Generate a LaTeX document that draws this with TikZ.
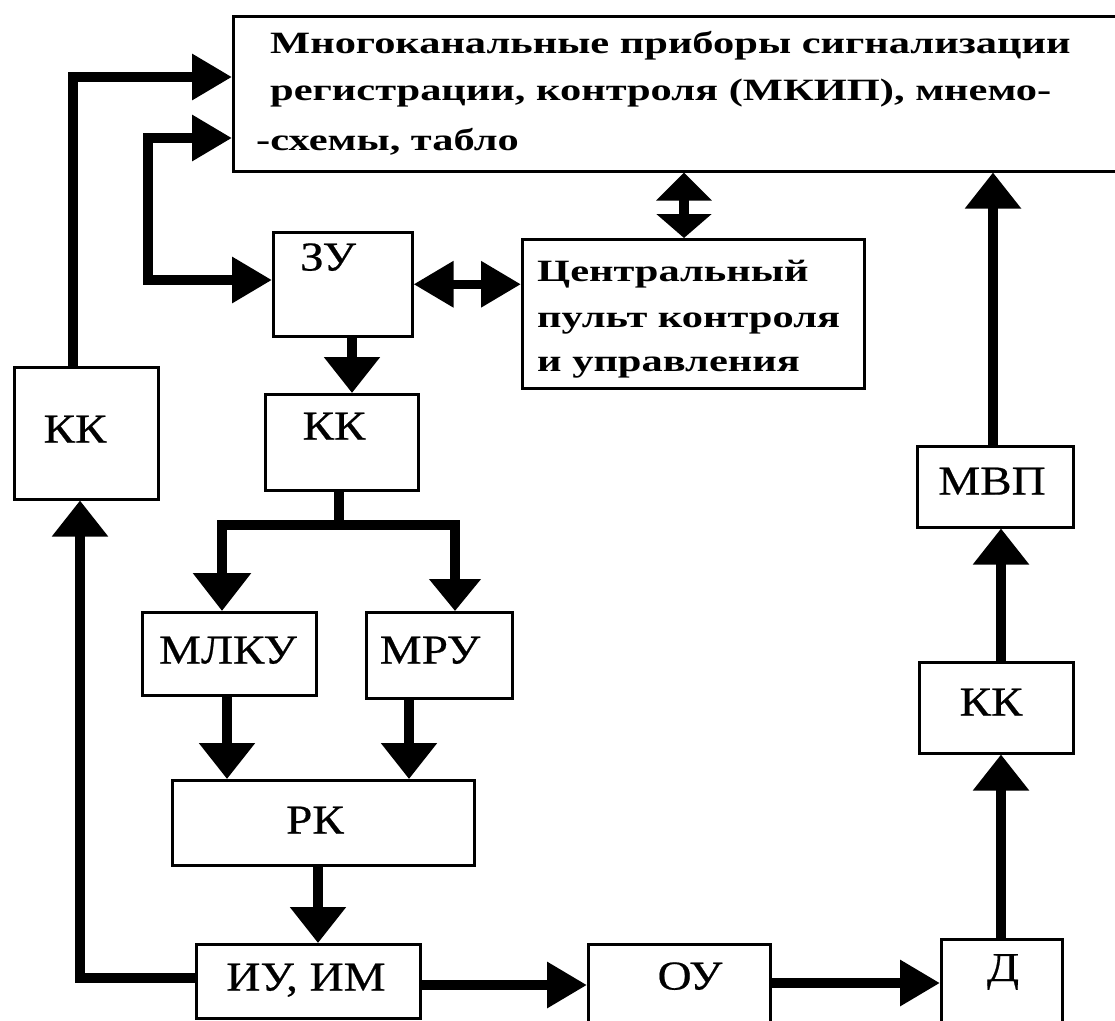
\documentclass[tikz,border=0pt]{standalone}
\usepackage{fontspec}
\usetikzlibrary{arrows.meta}
\newfontfamily\headfont[FakeStretch=1.37]{Liberation Serif}
\newfontfamily\boxfont[FakeStretch=1.15,FakeBold=0.5]{Liberation Serif}

\begin{document}
\begin{tikzpicture}[x=1pt,y=-1pt,
  blk/.style={draw, line width=2.5pt, inner sep=0pt, anchor=north west},
  lbl/.style={inner sep=0pt, anchor=base, font=\boxfont\fontsize{41}{41}\selectfont},
  headline/.style={inner sep=0pt, anchor=base west, font=\headfont\bfseries\fontsize{31}{36}\selectfont},
  wire/.style={line width=9.5pt},
  vtip/.style={wire, -{Triangle[length=36pt,width=54pt]}},
  htip/.style={wire, -{Triangle[length=40pt,width=44pt]}},
  hboth/.style={wire, {Triangle[length=40pt,width=44pt]}-{Triangle[length=40pt,width=44pt]}},
  vboth/.style={wire, {Triangle[length=38pt,width=56pt]}-{Triangle[length=32pt,width=50pt]}},
  vshort/.style={wire, {Triangle[length=28pt,width=54pt]}-{Triangle[length=24pt,width=54pt]}}
]
\useasboundingbox (0,0) rectangle (1115,1020);
\clip (0,0) rectangle (1115,1020);

% blocks
\node[blk, minimum width=950pt, minimum height=155pt] (mkip) at (232,15) {};
\node[blk, minimum width=139pt, minimum height=104pt] (zu)   at (272,231) {};
\node[blk, minimum width=342pt, minimum height=149pt] (cpu)  at (521,238) {};
\node[blk, minimum width=144pt, minimum height=132pt] (kkl)  at (13,366) {};
\node[blk, minimum width=153pt, minimum height=96pt]  (kkm)  at (264,393) {};
\node[blk, minimum width=174pt, minimum height=83pt]  (mlku) at (141,611) {};
\node[blk, minimum width=146pt, minimum height=86pt]  (mru)  at (365,611) {};
\node[blk, minimum width=302pt, minimum height=85pt]  (rk)   at (171,779) {};
\node[blk, minimum width=224pt, minimum height=74pt]  (ium)  at (195,943) {};
\node[blk, minimum width=182pt, minimum height=120pt] (ou)   at (587,943) {};
\node[blk, minimum width=121pt, minimum height=120pt] (d)    at (940,938) {};
\node[blk, minimum width=154pt, minimum height=91pt]  (kkr)  at (918,661) {};
\node[blk, minimum width=156pt, minimum height=81pt]  (mvp)  at (916,445) {};

% block texts
\node[headline] (mkip-l1) at (270,53)  {Многоканальные приборы сигнализации};
\node[headline] (mkip-l2) at (270,100) {регистрации, контроля (МКИП), мнемо-};
\node[headline] (mkip-l3) at (256,150) {-схемы, табло};
\node[headline] (cpu-l1) at (537,281) {Центральный};
\node[headline] (cpu-l2) at (537,327) {пульт контроля};
\node[headline] (cpu-l3) at (537,371) {и управления};
\node[lbl] (zu-t)   at (328,270.5) {ЗУ};
\node[lbl] (kkl-t)  at (75,442.5)  {КК};
\node[lbl] (kkm-t)  at (334,439.5) {КК};
\node[lbl] (mlku-t) at (228,663.5) {МЛКУ};
\node[lbl] (mru-t)  at (430,663.5) {МРУ};
\node[lbl] (rk-t)   at (315,833.5) {РК};
\node[lbl] (ium-t)  at (306,990.5) {ИУ, ИМ};
\node[lbl] (ou-t)   at (690,989.5) {ОУ};
\node[lbl] (d-t)    at (1003,981)  {Д};
\node[lbl] (kkr-t)  at (991,715.5) {КК};
\node[lbl] (mvp-t)  at (992,494.5) {МВП};

% routing guides
\coordinate (g1)  at (73,77);
\coordinate (g2a) at (148,138);
\coordinate (g2b) at (148,280);
\coordinate (g4)  at (684,0);
\coordinate (g5)  at (352,0);
\coordinate (g6)  at (339,525);
\coordinate (g6l) at (222,525);
\coordinate (g6r) at (455,525);
\coordinate (g7)  at (227,0);
\coordinate (g8)  at (409,0);
\coordinate (g9)  at (318,0);
\coordinate (g10) at (80,978);
\coordinate (g11) at (0,985);
\coordinate (g12) at (0,983);
\coordinate (g13) at (1001,0);
\coordinate (g15) at (993,0);

% connectors
\draw[htip] (g1 |- kkl.north) -- (g1) -- (g1 -| mkip.west);
\draw[hboth] (g2a -| mkip.west) -- (g2a) -- (g2b) -- (g2b -| zu.west);
\draw[hboth] (zu.east) -- (zu.east -| cpu.west);
\draw[vshort] (g4 |- mkip.south) -- (g4 |- cpu.north);
\draw[vtip] (g5 |- zu.south) -- (g5 |- kkm.north);
\draw[wire] (g6 |- kkm.south) -- (g6);
\draw[vboth] (g6l |- mlku.north) -- (g6l) -- (g6r) -- (g6r |- mru.north);
\draw[vtip] (g7 |- mlku.south) -- (g7 |- rk.north);
\draw[vtip] (g8 |- mru.south) -- (g8 |- rk.north);
\draw[vtip] (g9 |- rk.south) -- (g9 |- ium.north);
\draw[vtip] (g10 -| ium.west) -- (g10) -- (g10 |- kkl.south);
\draw[htip] (g11 -| ium.east) -- (g11 -| ou.west);
\draw[htip] (g12 -| ou.east) -- (g12 -| d.west);
\draw[vtip] (g13 |- d.north) -- (g13 |- kkr.south);
\draw[vtip] (g13 |- kkr.north) -- (g13 |- mvp.south);
\draw[vtip] (g15 |- mvp.north) -- (g15 |- mkip.south);
\end{tikzpicture}
\end{document}
